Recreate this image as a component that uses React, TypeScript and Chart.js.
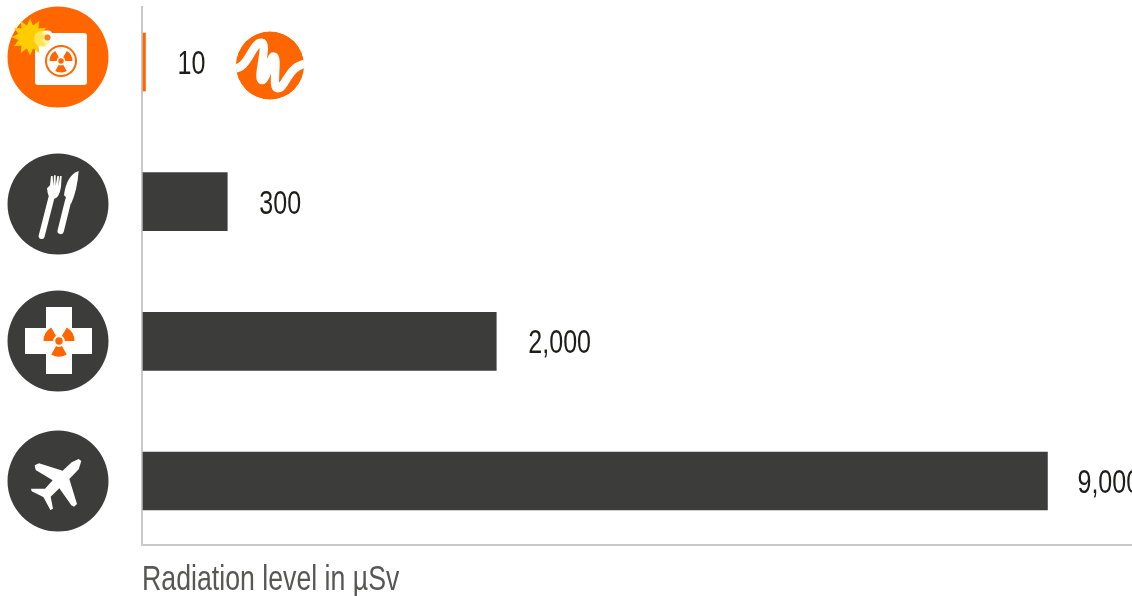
import React, { useEffect, useRef } from "react";
import { Chart, registerables, LinearScale } from "chart.js";

const categories = ["Radiation selfie", "Food", "Medical", "Flight"];
const values = [10, 300, 2000, 9000];
const valueLabels = ["10", "300", "2,000", "9,000"];
const barColors = ["#ff6600", "#3c3c3b", "#3c3c3b", "#3c3c3b"];
const axisTitle = "Radiation level in µSv";

// The original axis is not proportional: value -> share of the axis length.
const axisValues = [0, 10, 300, 2000, 9000, 9840];
const axisShares = [0, 0.0025, 0.0852, 0.3572, 0.9145, 1];

class SteppedScale extends LinearScale {
  static id = "stepped";
  static defaults = LinearScale.defaults;
  getPixelForValue(v: number) {
    let i = 1;
    while (i < axisValues.length - 1 && v > axisValues[i]) i++;
    const t = (v - axisValues[i - 1]) / (axisValues[i] - axisValues[i - 1]);
    const share = axisShares[i - 1] + t * (axisShares[i] - axisShares[i - 1]);
    return this.left + 1 + share * (this.width - 1);
  }
}
Chart.register(...registerables, SteppedScale);

const ORANGE = "#ff6600";
const DARK = "#3c3c3b";
const WHITE = "#ffffff";

function disc(c: any, x: number, y: number, r: number, color: string) {
  c.beginPath();
  c.arc(x, y, r, 0, Math.PI * 2);
  c.fillStyle = color;
  c.fill();
}

function trefoil(c: any, x: number, y: number, r: number, color: string) {
  c.fillStyle = color;
  disc(c, x, y, r * 0.24, color);
  for (const a of [-150, -30, 90]) {
    const m = (a * Math.PI) / 180;
    const h = (30 * Math.PI) / 180;
    c.beginPath();
    c.arc(x, y, r, m - h, m + h);
    c.arc(x, y, r * 0.38, m + h, m - h, true);
    c.closePath();
    c.fill();
  }
}

function poly(c: any, pts: number[][], color: string) {
  c.beginPath();
  pts.forEach((p, i) => (i ? c.lineTo(p[0], p[1]) : c.moveTo(p[0], p[1])));
  c.closePath();
  c.fillStyle = color;
  c.fill();
}

function selfieIcon(c: any) {
  disc(c, 58, 57, 50.5, ORANGE);
  c.fillStyle = WHITE;
  c.beginPath();
  c.roundRect(35, 33, 52, 52, 3);
  c.fill();
  c.beginPath();
  c.roundRect(35, 30.5, 17, 10, 4);
  c.fill();
  disc(c, 61, 61, 16, ORANGE);
  disc(c, 61, 61, 14, WHITE);
  trefoil(c, 61, 61, 11.5, ORANGE);
  const star: number[][] = [];
  for (let i = 0; i < 24; i++) {
    const a = (i * Math.PI) / 12;
    const r = i % 2 ? 12 : 18.5;
    star.push([30 + r * Math.cos(a), 37 + r * Math.sin(a)]);
  }
  poly(c, star, "#ffcc00");
  c.fillStyle = "rgba(255,240,120,0.7)";
  c.beginPath();
  c.arc(42, 39, 8, 0, Math.PI * 2);
  c.fill();
  disc(c, 47.5, 37.5, 3, "#f08030");
}

function cutleryIcon(c: any) {
  disc(c, 58, 204, 50.5, DARK);
  c.save();
  c.scale(1 / 3, 1 / 3);
  c.lineCap = "round";
  c.strokeStyle = WHITE;
  c.lineWidth = 18;
  c.beginPath();
  c.moveTo(125, 708);
  c.lineTo(155, 590);
  c.stroke();
  c.lineWidth = 19;
  c.beginPath();
  c.moveTo(182, 693);
  c.lineTo(205, 600);
  c.stroke();
  c.beginPath();
  c.moveTo(141, 565);
  c.quadraticCurveTo(144, 600, 160, 597);
  c.quadraticCurveTo(178, 595, 183, 560);
  c.lineTo(185, 528);
  c.lineTo(180, 528);
  c.lineTo(175, 560);
  c.lineTo(177, 528);
  c.lineTo(172, 528);
  c.lineTo(167, 558);
  c.lineTo(167, 526);
  c.lineTo(162, 526);
  c.lineTo(160, 558);
  c.lineTo(158, 528);
  c.lineTo(153, 528);
  c.lineTo(150, 556);
  c.closePath();
  c.fillStyle = WHITE;
  c.fill();
  c.beginPath();
  c.moveTo(236, 513);
  c.quadraticCurveTo(200, 525, 192, 585);
  c.lineTo(213, 612);
  c.quadraticCurveTo(232, 570, 236, 513);
  c.closePath();
  c.fill();
  c.restore();
}

function medicalIcon(c: any) {
  disc(c, 58, 341, 50.5, DARK);
  c.fillStyle = WHITE;
  c.fillRect(46, 307, 26, 67);
  c.fillRect(25, 328, 67, 26);
  trefoil(c, 59, 341, 15.5, ORANGE);
}

function planeIcon(c: any) {
  disc(c, 58, 481, 50.5, DARK);
  c.save();
  c.translate(0, 280);
  c.scale(1 / 3, 1 / 3);
  poly(
    c,
    [
      [244, 543], [236, 568], [208, 597], [231, 672], [222, 680], [214, 676],
      [178, 625], [152, 650], [159, 686], [151, 690], [130, 651], [95, 634],
      [93, 626], [135, 626], [158, 601], [107, 570], [104, 556], [117, 550],
      [188, 572], [215, 547], [236, 537],
    ],
    WHITE
  );
  c.restore();
}

function logo(c: any) {
  c.save();
  c.beginPath();
  c.arc(270, 65.5, 34.2, 0, Math.PI * 2);
  c.clip();
  disc(c, 270, 65.5, 34.2, ORANGE);
  c.scale(1 / 3, 1 / 3);
  c.strokeStyle = WHITE;
  c.lineWidth = 25;
  c.lineCap = "round";
  c.lineJoin = "round";
  c.beginPath();
  c.moveTo(695, 205);
  c.bezierCurveTo(745, 215, 755, 125, 785, 128);
  c.bezierCurveTo(805, 130, 770, 235, 785, 240);
  c.bezierCurveTo(800, 245, 810, 165, 822, 170);
  c.bezierCurveTo(835, 175, 815, 265, 832, 265);
  c.bezierCurveTo(860, 265, 860, 195, 925, 190);
  c.stroke();
  c.restore();
}

const decorations = {
  id: "decorations",
  afterDraw(chart: any) {
    const c = chart.ctx;
    c.save();
    selfieIcon(c);
    cutleryIcon(c);
    medicalIcon(c);
    planeIcon(c);
    logo(c);
    c.restore();
  },
};

const FONT_FAMILY = '"Liberation Sans"';

function squeezed(c: any, text: string, x: number, y: number, size: number, squeeze: number, color: string) {
  c.save();
  c.font = `${size}px ${FONT_FAMILY}`;
  c.fillStyle = color;
  c.textBaseline = "alphabetic";
  c.translate(x, y);
  c.scale(squeeze, 1);
  c.fillText(text, 0, 0);
  c.restore();
}

const valueText = {
  id: "valueText",
  afterDatasetsDraw(chart: any) {
    const c = chart.ctx;
    const meta = chart.getDatasetMeta(0);
    meta.data.forEach((bar: any, i: number) => {
      const gap = i === 3 ? 30 : 32;
      squeezed(c, valueLabels[i], bar.x + gap, bar.y + 12, 33, 0.76, "#1d1d1b");
    });
    const xs = chart.scales.x;
    squeezed(c, axisTitle, xs.left, xs.bottom - 6, 35, 0.763, "#575756");
  },
};

export default function App() {
  const ref = useRef<HTMLCanvasElement>(null);
  useEffect(() => {
    const chart = new Chart(ref.current as HTMLCanvasElement, {
      type: "bar",
      data: {
        datasets: [
          {
            label: "Radiation level",
            data: values.map((v, i) => ({ x: v, y: i })) as any,
            backgroundColor: barColors,
            barThickness: 58,
            borderWidth: 0,
          },
        ],
      },
      options: {
        indexAxis: "y",
        animation: false,
        responsive: false,
        layout: { padding: { top: 7, left: 0, right: 0, bottom: 0 } },
        plugins: { legend: { display: false }, tooltip: { enabled: false } },
        scales: {
          x: {
            type: "stepped" as any,
            min: 0,
            max: 9840,
            afterFit: (s: any) => {
              s.height = 51;
            },
            grid: { display: false, drawTicks: false },
            border: { color: "#c9c9c9", width: 2 },
            ticks: { display: false },
          },
          y: {
            type: "linear",
            reverse: true,
            offset: false,
            min: -0.394,
            max: 3.458,
            afterFit: (s: any) => {
              s.width = 142;
            },
            grid: { display: false, drawTicks: false },
            border: { color: "#c9c9c9", width: 2 },
            ticks: { display: false },
          },
        },
      },
      plugins: [valueText, decorations],
    } as any);
    return () => chart.destroy();
  }, []);
  return (
    <div style={{ position: "absolute", left: 0, top: 0, width: 1132, height: 596, overflow: "hidden", background: "#fff" }}>
      <canvas ref={ref} width={1132} height={596} style={{ display: "block" }} />
    </div>
  );
}
